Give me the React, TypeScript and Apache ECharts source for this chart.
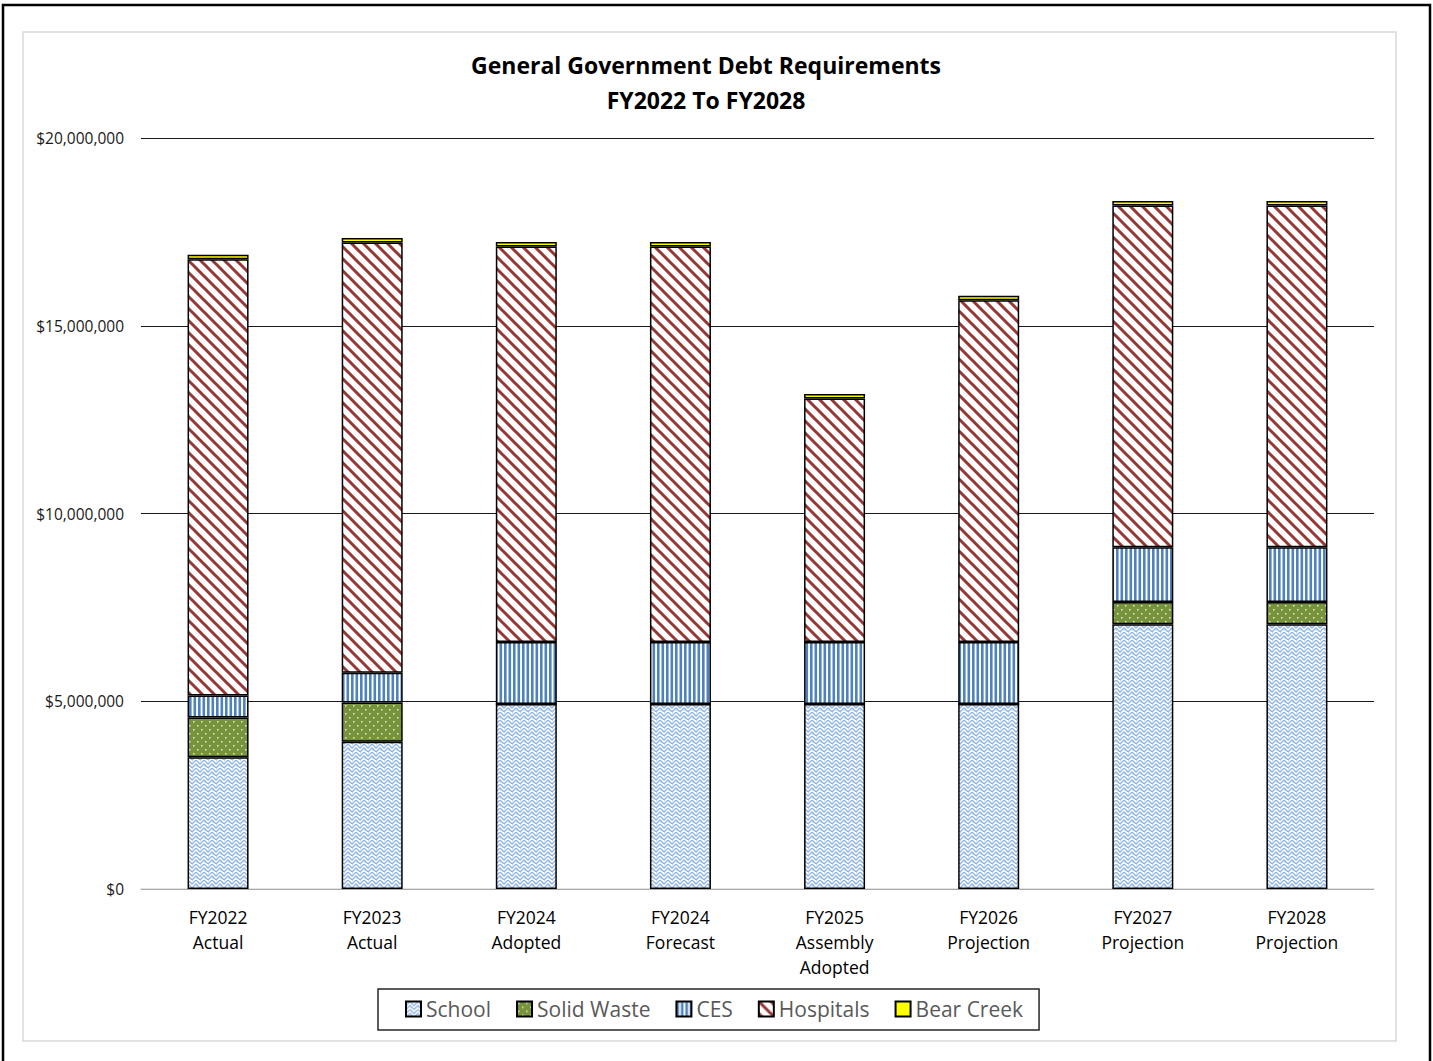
import React, { useEffect, useRef } from 'react';
import * as echarts from 'echarts';

const categories = [
  'FY2022\nActual',
  'FY2023\nActual',
  'FY2024\nAdopted',
  'FY2024\nForecast',
  'FY2025\nAssembly\nAdopted',
  'FY2026\nProjection',
  'FY2027\nProjection',
  'FY2028\nProjection',
];
const seriesNames = ['School', 'Solid Waste', 'CES', 'Hospitals', 'Bear Creek'];
const school = [3510000, 3920000, 4930000, 4930000, 4930000, 4930000, 7050000, 7050000];
const solidWaste = [1060000, 1050000, 0, 0, 0, 0, 590000, 590000];
const ces = [580000, 790000, 1650000, 1650000, 1650000, 1650000, 1460000, 1460000];
const hospitals = [11620000, 11460000, 10530000, 10530000, 6480000, 9100000, 9100000, 9100000];
const bearCreek = [120000, 120000, 120000, 120000, 120000, 120000, 120000, 120000];
const yMin = 0;
const yMax = 20000000;
const yInterval = 5000000;

function makeTile(w: number, h: number, draw: (ctx: CanvasRenderingContext2D) => void) {
  const c = document.createElement('canvas');
  c.width = w;
  c.height = h;
  const ctx = c.getContext('2d') as CanvasRenderingContext2D;
  draw(ctx);
  return { image: c, repeat: 'repeat', imageWidth: w, imageHeight: h } as any;
}

function buildPatterns() {
  const schoolP = makeTile(8, 8, (ctx) => {
    ctx.fillStyle = '#ffffff';
    ctx.fillRect(0, 0, 8, 8);
    ctx.strokeStyle = '#8db3e2';
    ctx.lineWidth = 1.3;
    ctx.beginPath();
    ctx.moveTo(-1, 5);
    ctx.lineTo(4, 0);
    ctx.lineTo(9, 5);
    ctx.moveTo(-1, 9);
    ctx.lineTo(4, 4);
    ctx.lineTo(9, 9);
    ctx.stroke();
    ctx.fillStyle = '#b8cfee';
    ctx.fillRect(0, 0, 1, 1);
    ctx.fillRect(4, 6, 1, 1);
  });
  const swP = makeTile(8, 8, (ctx) => {
    ctx.fillStyle = '#77933c';
    ctx.fillRect(0, 0, 8, 8);
    ctx.fillStyle = '#e4ebd3';
    ctx.fillRect(1, 1, 1.5, 1.5);
    ctx.fillRect(5, 5, 1.5, 1.5);
  });
  const cesP = makeTile(9, 4, (ctx) => {
    ctx.fillStyle = '#ffffff';
    ctx.fillRect(0, 0, 9, 4);
    ctx.fillStyle = '#4f81bd';
    ctx.fillRect(0, 0, 2.6, 4);
    ctx.fillRect(4.5, 0, 2.6, 4);
  });
  const hospP = makeTile(12, 12, (ctx) => {
    ctx.fillStyle = '#ffffff';
    ctx.fillRect(0, 0, 12, 12);
    ctx.strokeStyle = '#953735';
    ctx.lineWidth = 3;
    ctx.beginPath();
    for (const k of [-12, 0, 12]) {
      ctx.moveTo(k - 2, -2);
      ctx.lineTo(k + 14, 14);
    }
    ctx.stroke();
  });
  return [schoolP, swP, cesP, hospP, '#ffff00'];
}

function fmtMoney(v: number) {
  return '$' + Math.round(v).toLocaleString('en-US');
}

export default function App() {
  const ref = useRef<HTMLDivElement>(null);
  useEffect(() => {
    if (!ref.current) return;
    const chart = echarts.init(ref.current, null, { renderer: 'svg' });
    const patterns = buildPatterns();
    const dataSets = [school, solidWaste, ces, hospitals, bearCreek];
    const option: any = {
      animation: false,
      backgroundColor: '#ffffff',
      textStyle: { fontFamily: 'Open Sans' },
      graphic: [
        {
          type: 'rect',
          shape: { x: 3, y: 5, width: 1427, height: 1070 },
          style: { fill: 'none', stroke: '#000000', lineWidth: 2.5 },
          silent: true,
        },
        {
          type: 'rect',
          shape: { x: 23, y: 32, width: 1373, height: 1009 },
          style: { fill: 'none', stroke: '#d9d9d9', lineWidth: 1.5 },
          silent: true,
        },
        {
          type: 'text',
          x: 706,
          y: 65,
          style: {
            text: 'General Government Debt Requirements',
            align: 'center',
            verticalAlign: 'middle',
            font: 'bold 23px "Open Sans"',
            fill: '#000000',
          },
        },
        {
          type: 'text',
          x: 706,
          y: 100,
          style: {
            text: 'FY2022 To FY2028',
            align: 'center',
            verticalAlign: 'middle',
            font: 'bold 23px "Open Sans"',
            fill: '#000000',
          },
        },
      ],
      legend: {
        left: 378,
        top: 989,
        data: seriesNames,
        icon: 'rect',
        itemWidth: 15,
        itemHeight: 15,
        itemGap: 25,
        padding: [8, 16, 9, 27],
        borderColor: '#262626',
        borderWidth: 1.5,
        selectedMode: false,
        textStyle: { fontSize: 21, color: '#595959', fontFamily: 'Open Sans', lineHeight: 24 },
      },
      grid: { left: 141, right: 59, top: 138, bottom: 172, containLabel: false },
      xAxis: {
        type: 'category',
        data: categories,
        axisLine: { lineStyle: { color: '#d9d9d9', width: 1.5 } },
        axisTick: { show: false },
        axisLabel: {
          fontSize: 17.5,
          lineHeight: 25,
          color: '#000000',
          margin: 15,
          interval: 0,
          fontFamily: 'Open Sans',
        },
      },
      yAxis: {
        type: 'value',
        min: yMin,
        max: yMax,
        interval: yInterval,
        axisLine: { show: false },
        axisTick: { show: false },
        splitLine: { lineStyle: { color: '#1a1a1a', width: 1.2 } },
        axisLabel: {
          formatter: (v: number) => fmtMoney(v),
          fontSize: 15.5,
          color: '#1a1a1a',
          margin: 17,
          fontFamily: 'Open Sans',
        },
      },
      series: seriesNames.map((name, i) => ({
        name,
        type: 'bar',
        stack: 'total',
        barWidth: 61,
        data: dataSets[i],
        emphasis: { disabled: true },
        itemStyle: {
          color: patterns[i],
          borderColor: '#000000',
          borderWidth: 1.5,
        },
      })),
    };
    chart.setOption(option);
    return () => chart.dispose();
  }, []);
  return (
    <div
      ref={ref}
      style={{ position: 'absolute', left: 0, top: 0, width: 1433, height: 1061, background: '#ffffff' }}
    />
  );
}
